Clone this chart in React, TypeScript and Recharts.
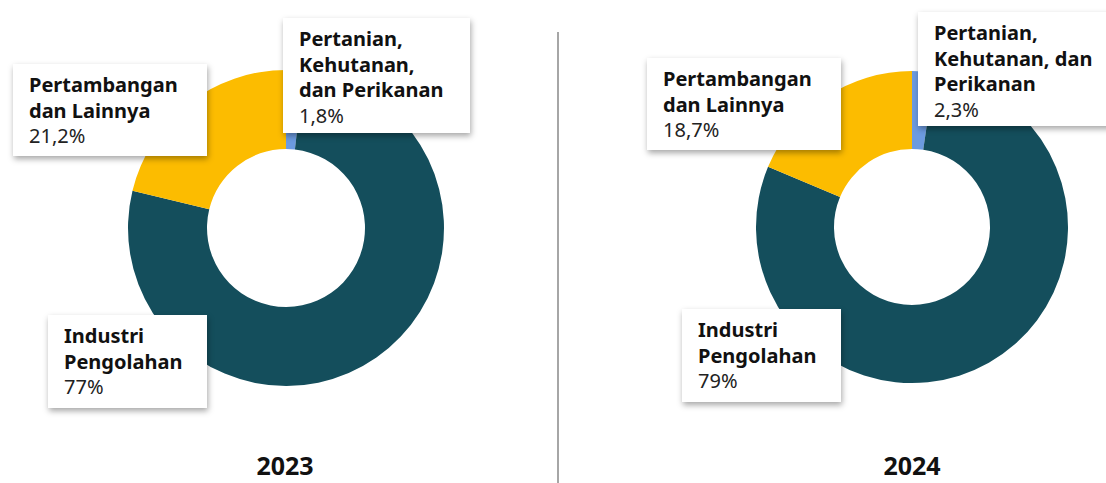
import React from "react";
import { PieChart, Pie, Cell } from "recharts";

const sectors = [
  "Pertanian,\nKehutanan,\ndan Perikanan",
  "Industri\nPengolahan",
  "Pertambangan\ndan Lainnya",
];
const sectors2024 = [
  "Pertanian,\nKehutanan, dan\nPerikanan",
  "Industri\nPengolahan",
  "Pertambangan\ndan Lainnya",
];
const values2023 = [1.8, 77, 21.2];
const values2024 = [2.3, 79, 18.7];
const pctLabels2023 = ["1,8%", "77%", "21,2%"];
const pctLabels2024 = ["2,3%", "79%", "18,7%"];
const years = ["2023", "2024"];
const colors = ["#6C9BE0", "#144E5C", "#FCBC00"];

const data2023 = sectors.map((name, i) => ({ name, value: values2023[i] }));
const data2024 = sectors2024.map((name, i) => ({ name, value: values2024[i] }));

// label box placement: [pertanian, industri, pertambangan]
const boxes2023 = [
  { left: 283, top: 18, width: 187, height: 115 },
  { left: 48, top: 315, width: 159, height: 93 },
  { left: 13, top: 64, width: 194, height: 92 },
];
const boxes2024 = [
  { left: 918, top: 12, width: 210, height: 114 },
  { left: 682, top: 309, width: 159, height: 93 },
  { left: 647, top: 58, width: 194, height: 92 },
];

const font = "'Noto Sans', 'Open Sans', sans-serif";

const LabelBox = ({ box, name, pct }: any) => (
  <div
    style={{
      position: "absolute",
      ...box,
      boxSizing: "border-box",
      background: "#fff",
      boxShadow: "1px 3px 6px rgba(0,0,0,0.35)",
      padding: "8px 16px",
      fontFamily: font,
      fontSize: 20,
      lineHeight: "25.5px",
      color: "#111",
    }}
  >
    <div style={{ fontWeight: 700, whiteSpace: "pre" }}>{name}</div>
    <div style={{ fontWeight: 400, color: "#222" }}>{pct}</div>
  </div>
);

export default function App() {
  return (
    <div
      style={{
        position: "absolute",
        left: 0,
        top: 0,
        width: 1106,
        height: 483,
        overflow: "hidden",
        background: "#fff",
      }}
    >
      <PieChart width={1106} height={483} margin={{ top: 0, right: 0, bottom: 0, left: 0 }}>
        <Pie
          data={data2023}
          dataKey="value"
          cx={286}
          cy={228}
          innerRadius={79}
          outerRadius={158}
          startAngle={90}
          endAngle={-270}
          stroke="none"
          isAnimationActive={false}
        >
          {data2023.map((d, i) => (
            <Cell key={d.name} fill={colors[i]} />
          ))}
        </Pie>
        <Pie
          data={data2024}
          dataKey="value"
          cx={912}
          cy={227}
          innerRadius={78}
          outerRadius={156}
          startAngle={90}
          endAngle={-270}
          stroke="none"
          isAnimationActive={false}
        >
          {data2024.map((d, i) => (
            <Cell key={d.name} fill={colors[i]} />
          ))}
        </Pie>
        <line x1={558} y1={32} x2={558} y2={483} stroke="#888" strokeWidth={1.5} />
        <text x={285} y={475} textAnchor="middle" fontFamily={font} fontWeight={700} fontSize={25} fill="#111">
          {years[0]}
        </text>
        <text x={912} y={475} textAnchor="middle" fontFamily={font} fontWeight={700} fontSize={25} fill="#111">
          {years[1]}
        </text>
      </PieChart>
      {data2023.map((d, i) => (
        <LabelBox key={"a" + i} box={boxes2023[i]} name={d.name} pct={pctLabels2023[i]} />
      ))}
      {data2024.map((d, i) => (
        <LabelBox key={"b" + i} box={boxes2024[i]} name={d.name} pct={pctLabels2024[i]} />
      ))}
    </div>
  );
}
